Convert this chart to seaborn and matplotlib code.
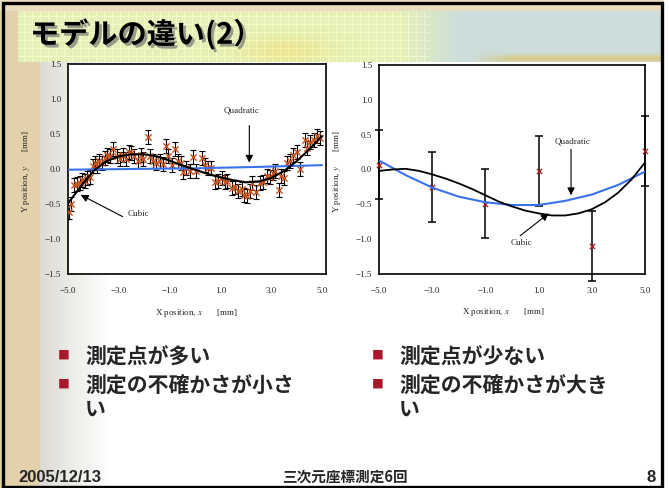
import numpy as np
import matplotlib
matplotlib.use("Agg")
import matplotlib.pyplot as plt
import seaborn as sns
from matplotlib import patheffects as pe
from matplotlib.patches import Rectangle

# ---------------- data ----------------
# many measurement points, small uncertainty
many_x = [-4.96, -4.87, -4.75, -4.66, -4.53, -4.45, -4.34, -4.24, -4.15, -4.03,
          -3.95, -3.84, -3.76, -3.66, -3.55, -3.47, -3.36, -3.22, -3.09, -2.96,
          -2.83, -2.71, -2.60, -2.50, -2.39, -2.26, -2.13, -2.03, -1.86, -1.79,
          -1.66, -1.53, -1.39, -1.26, -1.16, -1.05, -0.92, -0.79, -0.68, -0.55,
          -0.46, -0.34, -0.21, -0.09, 0.03, 0.26, 0.39, 0.53, 0.63, 0.79,
          0.92, 1.05, 1.18, 1.28, 1.45, 1.58, 1.71, 1.84, 1.93, 2.03,
          2.16, 2.26, 2.42, 2.55, 2.68, 2.82, 2.95, 3.07, 3.17, 3.29,
          3.39, 3.49, 3.62, 3.75, 3.88, 4.00, 4.13, 4.34, 4.43, 4.54,
          4.67, 4.80, 4.93]
many_y = [-0.61, -0.50, -0.23, -0.22, -0.20, -0.15, -0.17, -0.13, -0.12, 0.05,
          0.09, 0.04, 0.12, 0.08, 0.16, 0.20, 0.18, 0.28, 0.18, 0.14,
          0.20, 0.14, 0.25, 0.23, 0.18, 0.11, 0.20, 0.15, 0.46, 0.18,
          0.11, 0.09, 0.11, 0.07, 0.33, 0.18, 0.06, 0.29, 0.11, 0.09,
          -0.04, 0.01, -0.03, 0.17, -0.03, 0.16, 0.06, 0.02, 0.01, -0.18,
          -0.17, -0.13, -0.19, -0.17, -0.27, -0.25, -0.31, -0.29, -0.37, -0.39,
          -0.32, -0.20, -0.33, -0.20, -0.18, -0.10, -0.12, -0.06, -0.03, -0.30,
          -0.10, -0.13, 0.08, 0.11, 0.20, 0.25, 0.00, 0.42, 0.30, 0.38,
          0.42, 0.47, 0.44]
many_err = 0.1

many_cubic_x = [-5.0, -4.5, -4.0, -3.5, -3.0, -2.5, -2.0, -1.5, -1.0, -0.5, 0.0,
                0.5, 1.0, 1.5, 2.0, 2.5, 3.0, 3.5, 4.0, 4.5, 5.0]
many_cubic_y = [-0.49, -0.25, -0.03, 0.11, 0.18, 0.21, 0.21, 0.18, 0.12, 0.05, -0.01,
                -0.07, -0.12, -0.16, -0.19, -0.18, -0.13, -0.03, 0.11, 0.28, 0.47]
many_quad_x = [-5.0, -2.5, 0.0, 2.5, 5.0]
many_quad_y = [-0.01, 0.00, 0.01, 0.03, 0.055]

# few measurement points, large uncertainty
few_x = [-5, -3, -1, 1, 3, 5]
few_y = [0.07, -0.25, -0.49, -0.02, -1.10, 0.27]
few_err = 0.5

few_cubic_x = [-5.0, -4.5, -4.0, -3.5, -3.0, -2.5, -2.0, -1.5, -1.0, -0.5, 0.0,
               0.5, 1.0, 1.5, 2.0, 2.5, 3.0, 3.5, 4.0, 4.5, 5.0]
few_cubic_y = [-0.02, 0.00, 0.01, -0.02, -0.07, -0.13, -0.20, -0.28, -0.37, -0.46, -0.53,
               -0.59, -0.63, -0.66, -0.66, -0.63, -0.57, -0.47, -0.33, -0.14, 0.10]
few_quad_x = [-5, -4, -3, -2, -1, 0, 1, 2, 3, 4, 5]
few_quad_y = [0.13, -0.08, -0.26, -0.39, -0.47, -0.51, -0.51, -0.45, -0.36, -0.22, -0.03]

x_ticks = [-5.0, -3.0, -1.0, 1.0, 3.0, 5.0]
y_ticks = [-1.5, -1.0, -0.5, 0.0, 0.5, 1.0, 1.5]

title = "モデルの違い(2）"
left_points = ["測定点が多い", "測定の不確かさが小さ\nい"]
right_points = ["測定点が少ない", "測定の不確かさが大き\nい"]
footer_date = "2005/12/13"
footer_title = "三次元座標測定6回"
footer_page = "8"

# ---------------- style ----------------
sns.set_style("white")
plt.rcParams["font.family"] = ["Liberation Serif", "DejaVu Serif"]
plt.rcParams["mathtext.fontset"] = "stix"
JP = ["Noto Sans CJK JP", "DejaVu Sans"]
SANS = ["Liberation Sans", "DejaVu Sans"]

W, H = 669, 488
fig = plt.figure(figsize=(W / 100, H / 100), dpi=100)

# ---------------- slide background ----------------
xs = np.arange(W)[None, :, None]
ys = np.arange(H)[:, None, None]
parch = np.array([0.89, 0.82, 0.67])
gray = np.array([0.87, 0.86, 0.83])
t = np.clip((xs - 40) / 70.0, 0, 1)
side = gray * (1 - t) + 1.0 * t
img = np.where(xs < 40, parch, side) * np.ones((H, 1, 1))
# strip above the banner
top = (ys < 11)
img = np.where(top, parch * 0.6 + 0.4 * np.array([0.95, 0.93, 0.86]), img)
# title banner
ban_l = np.array([0.90, 0.94, 0.72])
ban_r = np.array([0.80, 0.87, 0.86])
tb = np.clip((xs - 400) / 60.0, 0, 1)
banner = ban_l * (1 - tb) + ban_r * tb
warm = np.exp(-(((xs - 285) / 45.0) ** 2 + ((ys - 50) / 14.0) ** 2))
banner = banner * (1 - 0.5 * warm) + np.array([0.95, 0.86, 0.45]) * 0.5 * warm
gold = np.exp(-(((ys - 58) / 4.0) ** 2)) * np.clip((xs - 470) / 40.0, 0, 1)
banner = banner * (1 - 0.55 * gold) + np.array([0.88, 0.74, 0.30]) * 0.55 * gold
grid = ((xs % 8 == 0) | (ys % 8 == 0)) & (xs < 430)
banner = np.where(grid, np.minimum(banner + 0.05, 1), banner)
in_banner = (ys >= 11) & (ys < 62) & (xs >= 18) & (xs < 662)
img = np.where(in_banner, banner, img)
img = np.where(xs > 663, 1.0, img)

bg = fig.add_axes([0, 0, 1, 1])
bg.imshow(img, extent=(0, W, H, 0), aspect="auto", interpolation="bilinear")
bg.set_xlim(0, W)
bg.set_ylim(H, 0)
bg.axis("off")
bg.add_patch(Rectangle((3, 2.5), 659, 484, fill=False, edgecolor="black", lw=2.4))

# ---------------- title ----------------
bg.text(30, 34, title, fontsize=21, fontweight="bold", family=JP, color="black",
        va="center", ha="left",
        path_effects=[pe.SimplePatchShadow(offset=(2, -2), shadow_rgbFace="#777777", alpha=0.7),
                      pe.Normal()])


def px_axes(x0, y0, x1, y1):
    return fig.add_axes([x0 / W, 1 - y1 / H, (x1 - x0) / W, (y1 - y0) / H])


def style_axes(ax, xmax, xlab_x, ylab_x):
    ax.set_facecolor("white")
    ax.set_xlim(-5, xmax)
    ax.set_ylim(-1.5, 1.5)
    ax.set_xticks(x_ticks)
    ax.set_yticks(y_ticks)
    ax.set_xticklabels([f"{v:.1f}".replace("-", "\u2212") for v in x_ticks])
    ax.set_yticklabels([f"{v:.1f}".replace("-", "\u2212") for v in y_ticks])
    ax.tick_params(axis="x", direction="in", length=3, width=0.8, labelsize=6.5, pad=9.5)
    ax.tick_params(axis="y", direction="in", length=3, width=0.8, labelsize=6.5, pad=5)
    for s in ax.spines.values():
        s.set_visible(True)
        s.set_color("black")
        s.set_linewidth(1.2)
    ax.set_xlabel(r"X position, $x$       [mm]", fontsize=6.5)
    ax.set_ylabel(r"Y position, $y$       [mm]", fontsize=6.5)
    ax.xaxis.set_label_coords(xlab_x, -0.155)
    ax.yaxis.set_label_coords(ylab_x, 0.49)


def annotate(ax, label, text_xy, start, tip):
    ax.text(*text_xy, label, fontsize=6.5, ha="center", va="center")
    ax.annotate("", xy=tip, xytext=start,
                arrowprops=dict(arrowstyle="-|>", color="black", lw=0.8,
                                mutation_scale=11, shrinkA=0, shrinkB=0))


# ---------------- left chart: many points ----------------
axL = px_axes(68, 64, 326, 274)
axL.errorbar(many_x, many_y, yerr=many_err, fmt="none", ecolor="black",
             elinewidth=0.8, capsize=2.3, capthick=0.8, zorder=2)
sns.scatterplot(x=many_x, y=many_y, ax=axL, marker="x", color="#c4521c", s=20,
                linewidth=1.0, zorder=3)
sns.lineplot(x=many_quad_x, y=many_quad_y, ax=axL, color="#3a72ee", lw=1.5,
             estimator=None, sort=False, zorder=4)
sns.lineplot(x=many_cubic_x, y=many_cubic_y, ax=axL, color="black", lw=1.5,
             estimator=None, sort=False, zorder=5)
annotate(axL, "Quadratic", (1.84, 0.83), (2.14, 0.62), (2.14, 0.09))
annotate(axL, "Cubic", (-2.24, -0.64), (-2.85, -0.68), (-4.5, -0.37))
style_axes(axL, 5.16, 0.5, -0.14)

# ---------------- right chart: few points ----------------
axR = px_axes(379, 65, 645, 274)
axR.errorbar(few_x, few_y, yerr=few_err, fmt="none", ecolor="black",
             elinewidth=1.1, capsize=3, capthick=1.1, zorder=2, clip_on=False)
sns.scatterplot(x=few_x, y=few_y, ax=axR, marker="x", color="#a8141c", s=14,
                linewidth=0.9, zorder=3, clip_on=False)
sns.lineplot(x=few_quad_x, y=few_quad_y, ax=axR, color="#3a72ee", lw=1.5,
             estimator=None, sort=False, zorder=4)
sns.lineplot(x=few_cubic_x, y=few_cubic_y, ax=axR, color="black", lw=1.3,
             estimator=None, sort=False, zorder=5)
annotate(axR, "Quadratic", (2.28, 0.40), (2.22, 0.29), (2.22, -0.37))
annotate(axR, "Cubic", (0.37, -1.05), (0.31, -0.95), (1.38, -0.63))
style_axes(axR, 5.0, 0.47, -0.135)

# ---------------- bullet text ----------------
bullet_rows = [355, 384]
for col_x, items in ((64, left_points), (378, right_points)):
    for yy, txt in zip(bullet_rows, items):
        bg.text(col_x, yy, "\u25A0", fontsize=8.5, color="#a8182a", family=JP,
                ha="center", va="center")
        bg.text(col_x + 21, yy - 8, txt, fontsize=15, fontweight="bold", family=JP,
                ha="left", va="top", linespacing=1.1)

# ---------------- footer ----------------
bg.text(18, 477, footer_date, fontsize=12, fontweight="bold", family=SANS,
        ha="left", va="center")
bg.text(345, 477, footer_title, fontsize=10.5, fontweight="bold", family=JP,
        ha="center", va="center")
bg.text(656, 477, footer_page, fontsize=12, fontweight="bold", family=SANS,
        ha="right", va="center")

fig.savefig("out.png", dpi=100)
